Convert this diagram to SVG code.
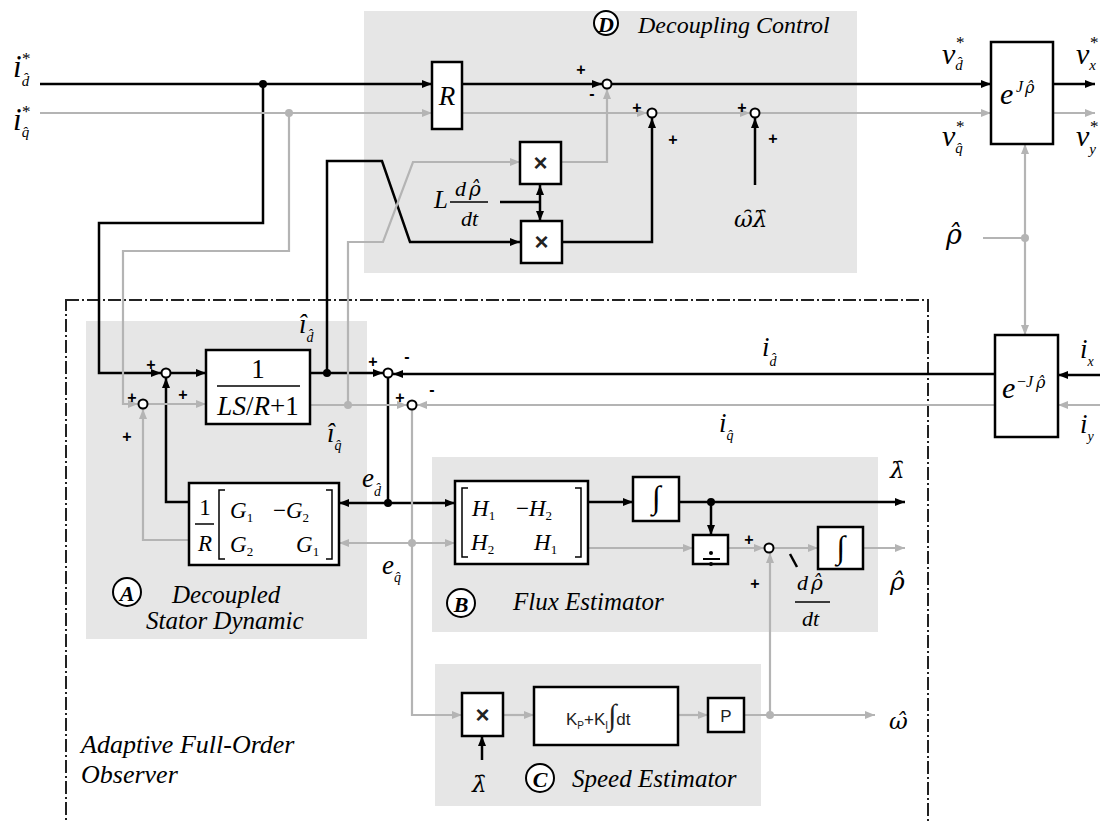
<svg xmlns="http://www.w3.org/2000/svg" width="1105" height="823" viewBox="0 0 1105 823">
<defs>
<marker id="ab" markerUnits="userSpaceOnUse" markerWidth="11" markerHeight="9" refX="10" refY="4" orient="auto"><path d="M0,0 L10,4 L0,8 z" fill="#000"/></marker>
<marker id="ag" markerUnits="userSpaceOnUse" markerWidth="11" markerHeight="9" refX="10" refY="4" orient="auto"><path d="M0,0 L10,4 L0,8 z" fill="#b4b4b4"/></marker>
<style>
.b{fill:none;stroke:#000;stroke-width:2.5}
.g{fill:none;stroke:#b4b4b4;stroke-width:2.2}
.ba{marker-end:url(#ab)}
.ga{marker-end:url(#ag)}
.box{fill:#fff;stroke:#000;stroke-width:2.5}
.sum{fill:#fff;stroke:#000;stroke-width:2}
.panel{fill:#e6e6e6}
.dotb{fill:#000}
.dotg{fill:#b4b4b4}
.t{font-family:"Liberation Serif",serif;font-style:italic;fill:#000}
.gr{font-family:"DejaVu Serif",serif;font-style:italic;fill:#000}
.u{font-family:"Liberation Serif",serif;fill:#000}
.s{font-family:"Liberation Sans",Arial,sans-serif;fill:#222}
.pm{font-family:"Liberation Sans",Arial,sans-serif;font-size:16px;font-weight:bold;text-anchor:middle;dominant-baseline:central;fill:#000}
.brk{fill:none;stroke:#000;stroke-width:1.5}
.circ{fill:#fff;stroke:#000;stroke-width:2}
.cl{font-family:"Liberation Serif",serif;font-style:italic;font-weight:bold;font-size:22px;text-anchor:middle;dominant-baseline:central}
</style>
</defs>
<rect width="1105" height="823" fill="#fff"/>

<g id="panels">
<rect class="panel" x="364" y="11" width="493" height="262"/>
<rect class="panel" x="86" y="321" width="281" height="318"/>
<rect class="panel" x="432" y="457" width="446" height="175"/>
<rect class="panel" x="435" y="664" width="326" height="142"/>
<rect x="66" y="300" width="862" height="540" fill="none" stroke="#222" stroke-width="2" stroke-dasharray="13 3 2 3"/>
</g>

<g id="connectors">
<path class="b ba" d="M40,84 H432"/>
<path class="b ba" d="M263,84 V223 H99 V373 H161"/>
<path class="b ba" d="M462,84 H602"/>
<path class="b ba" d="M612,84 H991"/>
<path class="b ba" d="M171,373 H206"/>
<path class="b ba" d="M310,373 H383"/>
<path class="b ba" d="M327,373 V161 H382 L410,242 H520"/>
<path class="b ba" d="M561,242 H652 V118"/>
<path class="b" d="M500,202 H540"/>
<path class="b ba" d="M540,202 V185"/>
<path class="b ba" d="M540,202 V221"/>
<path class="b ba" d="M755,185 V118"/>
<path class="b ba" d="M1053,84 H1095"/>
<path class="b ba" d="M1100,375 H1058"/>
<path class="b ba" d="M995,374 H393"/>
<path class="b" d="M388,378 V503"/>
<path class="b ba" d="M388,503 H339"/>
<path class="b ba" d="M388,503 H455"/>
<path class="b ba" d="M189,502 H166 V378"/>
<path class="b ba" d="M588,502 H633"/>
<path class="b ba" d="M679,502 H905"/>
<path class="b ba" d="M711,502 V535"/>
<path class="b ba" d="M482,760 V736"/>
<path class="b" d="M790,554 L797,567" stroke-width="2"/>
<path class="g ga" d="M40,113 H432"/>
<path class="g ga" d="M289,113 V251 H123 V404 H138"/>
<path class="g ga" d="M462,113 H647"/>
<path class="g ga" d="M657,113 H750"/>
<path class="g ga" d="M760,113 H991"/>
<path class="g ga" d="M1053,113 H1095"/>
<path class="g" d="M983,238 H1025"/>
<path class="g ga" d="M1025,238 V144"/>
<path class="g ga" d="M1025,238 V335"/>
<path class="g ga" d="M1100,405 H1058"/>
<path class="g ga" d="M995,405 H417"/>
<path class="g ga" d="M148,404 H206"/>
<path class="g ga" d="M310,405 H407"/>
<path class="g ga" d="M348,405 V242 H383 L413,162 H520"/>
<path class="g ga" d="M561,162 H607 V89"/>
<path class="g ga" d="M412,410 V715 H462"/>
<path class="g ga" d="M412,543 H339"/>
<path class="g ga" d="M412,543 H455"/>
<path class="g ga" d="M189,540 H143 V409"/>
<path class="g ga" d="M588,548 H693"/>
<path class="g ga" d="M728,548 H764"/>
<path class="g ga" d="M774,548 H818"/>
<path class="g ga" d="M863,548 H905"/>
<path class="g ga" d="M503,715 H534"/>
<path class="g ga" d="M678,715 H708"/>
<path class="g ga" d="M744,715 H875"/>
<path class="g ga" d="M770,715 V553"/>
<circle class="dotb" cx="263" cy="84" r="4"/>
<circle class="dotg" cx="289" cy="113" r="4"/>
<circle class="dotb" cx="327" cy="373" r="4"/>
<circle class="dotg" cx="348" cy="405" r="4"/>
<circle class="dotb" cx="388" cy="503" r="4"/>
<circle class="dotg" cx="412" cy="543" r="4"/>
<circle class="dotb" cx="711" cy="502" r="4"/>
<circle class="dotg" cx="770" cy="715" r="4"/>
<circle class="dotg" cx="1025" cy="238" r="4"/>
</g>

<g id="sum-d1"><circle class="sum" cx="607" cy="84" r="4.5"/><text class="pm" x="581" y="69">+</text><text class="pm" x="592" y="93">-</text></g>
<g id="sum-d2"><circle class="sum" cx="652" cy="113" r="4.5"/><text class="pm" x="637" y="107">+</text><text class="pm" x="673" y="139">+</text></g>
<g id="sum-d3"><circle class="sum" cx="755" cy="113" r="4.5"/><text class="pm" x="742" y="107">+</text><text class="pm" x="773" y="138">+</text></g>
<g id="sum-a1"><circle class="sum" cx="166" cy="373" r="4.5"/><text class="pm" x="151" y="364">+</text></g>
<g id="sum-a2"><circle class="sum" cx="143" cy="404" r="4.5"/><text class="pm" x="132" y="397">+</text><text class="pm" x="183" y="394">+</text><text class="pm" x="127" y="436">+</text></g>
<g id="sum-e1"><circle class="sum" cx="388" cy="373" r="4.5"/><text class="pm" x="373" y="361">+</text><text class="pm" x="407" y="356">-</text></g>
<g id="sum-e2"><circle class="sum" cx="412" cy="405" r="4.5"/><text class="pm" x="400" y="397">+</text><text class="pm" x="432" y="389">-</text></g>
<g id="sum-b"><circle class="sum" cx="769" cy="548" r="4.5"/><text class="pm" x="749" y="539">+</text><text class="pm" x="755" y="583">+</text></g>

<g id="block-R"><rect class="box" x="432" y="62" width="30" height="67"/><text class="t" x="447" y="105" font-size="27" text-anchor="middle">R</text></g>
<g id="block-mul1"><rect class="box" x="520" y="142" width="41" height="42"/><text class="s" x="540.5" y="171" font-size="24" font-weight="bold" text-anchor="middle" fill="#000">×</text></g>
<g id="block-mul2"><rect class="box" x="521" y="221" width="41" height="42"/><text class="s" x="541.5" y="250" font-size="24" font-weight="bold" text-anchor="middle" fill="#000">×</text></g>
<g id="block-ejp"><rect class="box" x="991" y="42" width="62" height="102"/>
<text class="t" x="1000" y="104" font-size="30">e</text><text class="t" x="1016" y="92" font-size="16">J</text><text class="gr" x="1025" y="93" font-size="16">ρ̂</text></g>
<g id="block-emjp"><rect class="box" x="995" y="335" width="63" height="102"/>
<text class="t" x="1002" y="398" font-size="30">e</text><text class="t" x="1017" y="387" font-size="16"><tspan font-style="normal">−</tspan>J</text><text class="gr" x="1036" y="388" font-size="16">ρ̂</text></g>
<g id="block-LS"><rect class="box" x="206" y="350" width="104" height="74"/>
<text class="u" x="258" y="378" font-size="27" text-anchor="middle">1</text>
<path d="M217,386 H300" stroke="#000" stroke-width="1.5"/>
<text class="u" x="258" y="415" font-size="27" text-anchor="middle"><tspan font-style="italic">LS</tspan>/<tspan font-style="italic">R</tspan>+1</text></g>
<g id="block-G"><rect class="box" x="189" y="483" width="150" height="82"/>
<text class="u" x="205" y="515" font-size="23" text-anchor="middle">1</text>
<path d="M195,524 H214" stroke="#000" stroke-width="1.5"/>
<text class="t" x="205" y="551" font-size="23" text-anchor="middle">R</text>
<path class="brk" d="M225,490 H219 V559 H225"/><path class="brk" d="M326,490 H332 V559 H326"/>
<text class="t" x="230" y="518" font-size="23">G<tspan font-style="normal" font-size="13" dy="4">1</tspan></text>
<text class="t" x="273" y="518" font-size="23"><tspan font-style="normal">−</tspan>G<tspan font-style="normal" font-size="13" dy="4">2</tspan></text>
<text class="t" x="230" y="552" font-size="23">G<tspan font-style="normal" font-size="13" dy="4">2</tspan></text>
<text class="t" x="296" y="552" font-size="23">G<tspan font-style="normal" font-size="13" dy="4">1</tspan></text></g>
<g id="block-H"><rect class="box" x="455" y="481" width="133" height="83"/>
<path class="brk" d="M468,488 H462 V557 H468"/><path class="brk" d="M575,488 H581 V557 H575"/>
<text class="t" x="472" y="516" font-size="23">H<tspan font-style="normal" font-size="13" dy="4">1</tspan></text>
<text class="t" x="516" y="516" font-size="23"><tspan font-style="normal">−</tspan>H<tspan font-style="normal" font-size="13" dy="4">2</tspan></text>
<text class="t" x="471" y="550" font-size="23">H<tspan font-style="normal" font-size="13" dy="4">2</tspan></text>
<text class="t" x="534" y="550" font-size="23">H<tspan font-style="normal" font-size="13" dy="4">1</tspan></text></g>
<g id="block-int1"><rect class="box" x="633" y="477" width="46" height="44"/><text class="t" x="656" y="508" font-size="32" font-weight="bold" text-anchor="middle">∫</text></g>
<g id="block-div"><rect class="box" x="693" y="535" width="35" height="29"/><circle cx="711" cy="553" r="2" fill="#000"/><path d="M703,559 H720" stroke="#000" stroke-width="2"/><circle cx="711" cy="564" r="2" fill="#000"/></g>
<g id="block-int2"><rect class="box" x="818" y="527" width="45" height="42"/><text class="t" x="840.5" y="558" font-size="32" font-weight="bold" text-anchor="middle">∫</text></g>
<g id="block-mul3"><rect class="box" x="462" y="693" width="41" height="43"/><text class="s" x="482.5" y="723" font-size="24" font-weight="bold" text-anchor="middle" fill="#000">×</text></g>
<g id="block-PI"><rect class="box" x="534" y="687" width="144" height="58"/>
<text class="s" x="566" y="725" font-size="17">K<tspan font-size="10" dy="4">P</tspan><tspan dy="-4">+K</tspan><tspan font-size="10" dy="4">I</tspan><tspan dy="-4" font-family="Liberation Serif" font-size="30" font-weight="bold" font-style="italic">∫</tspan><tspan>dt</tspan></text></g>
<g id="block-P"><rect class="box" x="708" y="698" width="36" height="34"/><text class="s" x="726" y="722" font-size="17" text-anchor="middle">P</text></g>

<g id="labels">
<text class="t" x="13" y="77" font-size="31">i<tspan font-size="15" dy="9">d̂</tspan><tspan font-style="normal" font-size="17" x="22" y="64">*</tspan></text>
<text class="t" x="13" y="130" font-size="31">i<tspan font-size="15" dy="7">q̂</tspan><tspan font-style="normal" font-size="17" x="22" y="117">*</tspan></text>
<circle class="circ" cx="606" cy="23" r="12"/><text class="cl" x="606" y="24">D</text>
<text class="t" x="638" y="33" font-size="24">Decoupling Control</text>
<text class="t" x="434" y="208" font-size="25">L</text>
<text class="t" x="455" y="196" font-size="22">d</text><text class="gr" x="469" y="196" font-size="20">ρ̂</text>
<path d="M450,202 H488" stroke="#000" stroke-width="1.3"/>
<text class="t" x="461" y="226" font-size="22">dt</text>
<text class="gr" x="734" y="227" font-size="23">ω̑λ̑</text>
<text class="t" x="942" y="64" font-size="30">v<tspan font-size="15" dy="6">d̂</tspan><tspan font-style="normal" font-size="17" x="956" y="48">*</tspan></text>
<text class="t" x="942" y="146" font-size="30">v<tspan font-size="15" dy="7">q̂</tspan><tspan font-style="normal" font-size="17" x="956" y="132">*</tspan></text>
<text class="t" x="1076" y="64" font-size="30">v<tspan font-size="15" dy="6">x</tspan><tspan font-style="normal" font-size="17" x="1090" y="48">*</tspan></text>
<text class="t" x="1076" y="146" font-size="30">v<tspan font-size="15" dy="8">y</tspan><tspan font-style="normal" font-size="17" x="1090" y="132">*</tspan></text>
<text class="gr" x="946" y="244" font-size="27">ρ̂</text>
<text class="t" x="762" y="356" font-size="27">i<tspan font-size="14" dy="10">d̂</tspan></text>
<text class="t" x="719" y="432" font-size="27">i<tspan font-size="14" dy="8">q̂</tspan></text>
<text class="t" x="1080" y="358" font-size="27">i<tspan font-size="14" dy="8">x</tspan></text>
<text class="t" x="1080" y="433" font-size="27">i<tspan font-size="14" dy="8">y</tspan></text>
<text class="t" x="299" y="333" font-size="27">î<tspan font-size="14" dy="9">d̂</tspan></text>
<text class="t" x="327" y="442" font-size="27">î<tspan font-size="14" dy="8">q̂</tspan></text>
<text class="t" x="362" y="487" font-size="27">e<tspan font-size="14" dy="9">d̂</tspan></text>
<text class="t" x="382" y="574" font-size="27">e<tspan font-size="14" dy="8">q̂</tspan></text>
<text class="gr" x="890" y="478" font-size="23">λ̑</text>
<text class="gr" x="890" y="590" font-size="25">ρ̂</text>
<text class="t" x="797" y="590" font-size="22">d</text><text class="gr" x="811" y="590" font-size="20">ρ̂</text>
<path d="M795,602 H830" stroke="#000" stroke-width="1.3"/>
<text class="t" x="802" y="626" font-size="22">dt</text>
<text class="gr" x="889" y="729" font-size="23">ω̂</text>
<text class="gr" x="472" y="792" font-size="23">λ̑</text>
<circle class="circ" cx="127" cy="592" r="14"/><text class="cl" x="127" y="593">A</text>
<text class="t" x="172" y="603" font-size="25">Decoupled</text>
<text class="t" x="146" y="629" font-size="25">Stator Dynamic</text>
<circle class="circ" cx="461" cy="603" r="14"/><text class="cl" x="461" y="604">B</text>
<text class="t" x="513" y="610" font-size="25">Flux Estimator</text>
<circle class="circ" cx="540" cy="778" r="14"/><text class="cl" x="540" y="779">C</text>
<text class="t" x="572" y="787" font-size="25">Speed Estimator</text>
<text class="t" x="81" y="753" font-size="26">Adaptive Full-Order</text>
<text class="t" x="81" y="783" font-size="26">Observer</text>
</g>
</svg>
